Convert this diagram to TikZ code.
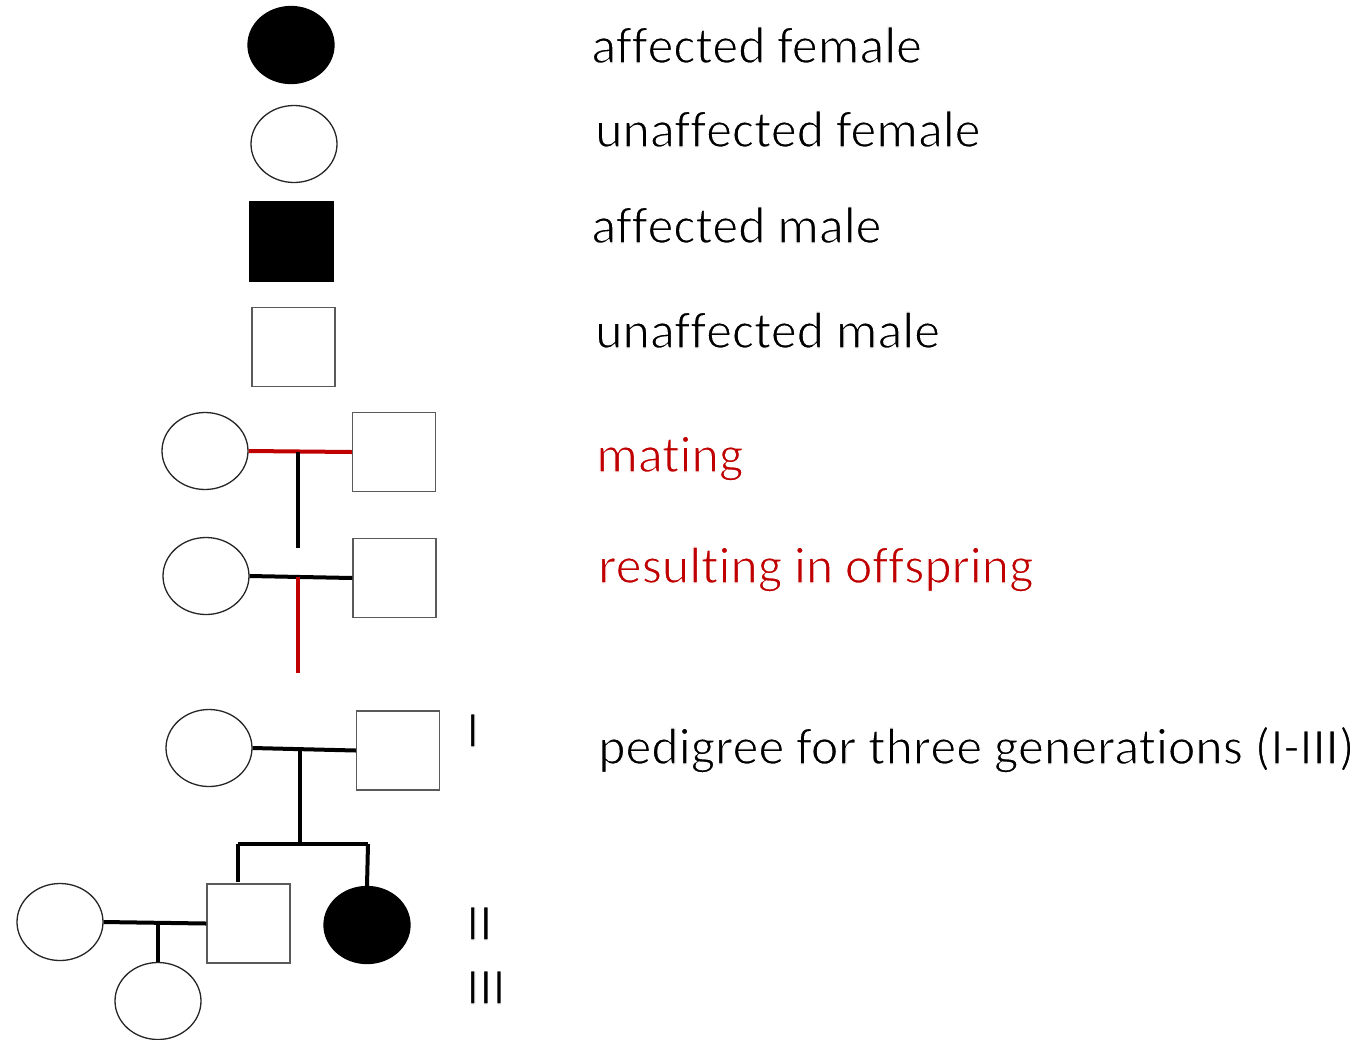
\documentclass[tikz,border=0pt]{standalone}
\usepackage{fontspec}
\setmainfont{Carlito}[Ligatures={NoCommon,NoRequired,NoContextual,NoRare}]
\usetikzlibrary{shapes.geometric}
\definecolor{dred}{RGB}{192,0,0}
\definecolor{boxgray}{RGB}{90,90,90}
\newcommand{\nlg}{\kern0pt }
\newcommand{\lighttext}[1]{\special{pdf:literal direct 1 1 1 RG 2 Tr 1.2 w}#1\special{pdf:literal direct 0 Tr}}
\tikzset{
  fem/.style={ellipse, draw=black!85, line width=1.3pt, fill=white, minimum width=86pt, minimum height=77pt, inner sep=0pt},
  affem/.style={fem, fill=black, draw=black},
  mal/.style={rectangle, draw=boxgray, line width=1.3pt, fill=white, minimum width=83pt, minimum height=79pt, inner sep=0pt},
  afmal/.style={mal, fill=black, draw=black},
  link/.style={line width=4pt, black},
  redlink/.style={line width=4pt, dred},
  lbl/.style={anchor=base west, inner sep=0pt, font=\fontsize{52}{60}\selectfont},
  redlbl/.style={lbl, text=dred},
  gen/.style={anchor=base west, inner sep=0pt, font=\fontsize{52}{60}\selectfont}
}
\begin{document}
\begin{tikzpicture}[x=1pt,y=-1pt]
\useasboundingbox[fill=white] (0,0) rectangle (1372,1039);
% legend texts
\node[lbl] (t1) at (591,63) {\lighttext{af\nlg f\nlg ected female}};
\node[lbl] (t2) at (595,147) {\lighttext{unaf\nlg f\nlg ected female}};
\node[lbl] (t3) at (591,243) {\lighttext{af\nlg f\nlg ected male}};
\node[lbl] (t4) at (595,348) {\lighttext{unaf\nlg f\nlg ected male}};
\node[redlbl] (t5) at (596,472) {\lighttext{mat\nlg ing}};
\node[redlbl] (t6) at (598,583) {\lighttext{result\nlg ing in of\nlg f\nlg spring}};
\node[lbl] (t7) at (598,764) {\lighttext{pedigree for three generat\nlg ions (I-III)}};
% generation numerals
\node[gen] (g1) at (466,747) {\lighttext{I}};
\node[gen] (g2) at (466,940) {\lighttext{II}};
\node[gen] (g3) at (466,1004) {\lighttext{III}};
% legend symbols
\node[affem] (lf1) at (291,45) {};
\node[fem] (lf2) at (294,144) {};
\node[afmal] (lm1) at (291.5,241.5) {};
\node[mal] (lm2) at (293.5,347) {};
% mating example
\node[fem] (mf) at (205,451) {};
\node[mal] (mm) at (394,452) {};
\coordinate (mc) at (298,452);
\coordinate (md) at (298,548);
\draw[redlink] (mf.east) -- (mm.west);
\draw[link] (mc) -- (md);
% offspring example
\node[fem] (of) at (206,576) {};
\node[mal] (om) at (394.5,578) {};
\coordinate (oc) at (298,577);
\coordinate (od) at (298,673);
\draw[link] (of.east) -- (om.west);
\draw[redlink] (oc) -- (od);
% pedigree generation I
\node[fem] (p1f) at (209,748) {};
\node[mal] (p1m) at (398,750.5) {};
\coordinate (p1c) at (300,749);
\coordinate (sibc) at (300,844);
\coordinate (sibl) at (238,844);
\coordinate (sibr) at (368,844);
\draw[link] (p1f.east) -- (p1m.west);
\draw[link] (p1c) -- (sibc);
\draw[link] (sibl) -- (sibr);
% generation II
\node[mal] (p2m) at (248.5,923.5) {};
\node[affem] (p2f) at (367,925) {};
\node[fem] (p2s) at (60,922) {};
\coordinate (dropl) at (238,882);
\draw[link] (sibl) -- (dropl);
\draw[link] (sibr) -- (p2f.north);
\coordinate (p2c) at (158,923);
\draw[link] (p2s.east) -- (p2m.west);
% generation III
\node[fem] (p3f) at (158,1001) {};
\draw[link] (p2c) -- (p3f.north);
\end{tikzpicture}
\end{document}
